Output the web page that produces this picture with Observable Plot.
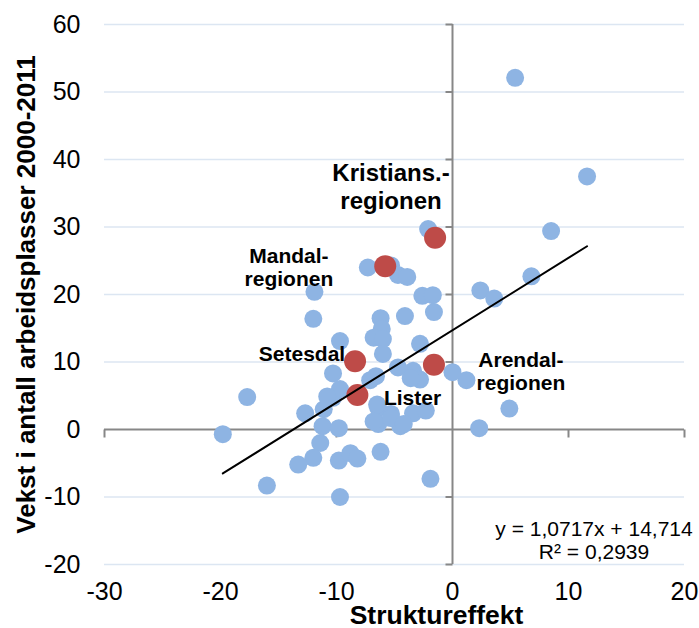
<!DOCTYPE html>
<html>
<head>
<meta charset="utf-8">
<script src="https://cdn.jsdelivr.net/npm/d3@7"></script>
<script src="https://cdn.jsdelivr.net/npm/@observablehq/plot@0.6"></script>
<style>
  html, body { margin: 0; padding: 0; background: #fff; }
</style>
</head>
<body>
<div id="chart"></div>
<script>
// Blue points (other regions): Struktureffekt (x), Vekst (y)
const blueX = [5.4, 11.6, 8.5, 6.8, 2.4, 3.6, 1.2, 4.9, 2.3, 0.0,
  -2.1, -7.3, -5.3, -4.7, -3.9, -2.6, -1.7, -1.6, -11.9, -12.0,
  -9.7, -6.2, -6.1, -6.8, -6.0, -4.1, -2.8, -6.0, -10.3, -7.1,
  -4.7, -3.4, -2.8, -10.3, -9.7, -12.7, -11.1, -6.4, -5.3, -6.4,
  -4.5, -3.4, -2.3, -11.2, -9.8, -11.4, -12.0, -13.3, -9.8, -8.8,
  -8.2, -6.2, -1.9, -9.7, -17.7, -19.8, -16.0, -6.5, -5.3, -4.2,
  -6.8, -3.6, -10.8, -6.6];
const blueY = [52.1, 37.5, 29.4, 22.7, 20.6, 19.4, 7.3, 3.1, 0.2, 8.5,
  29.7, 24.0, 24.3, 22.9, 22.6, 19.8, 19.9, 17.4, 20.4, 16.4,
  13.1, 16.5, 14.9, 13.6, 13.4, 16.8, 12.7, 11.2, 8.3, 7.3,
  9.2, 8.7, 7.4, 4.7, 6.0, 2.4, 3.0, 3.2, 2.3, 0.8,
  0.5, 2.4, 2.8, 0.5, 0.2, -2.0, -4.2, -5.2, -4.6, -3.5,
  -4.3, -3.3, -7.3, -10.0, 4.8, -0.7, -8.3, 3.7, 1.7, 0.8,
  1.2, 7.6, 4.9, 7.9];

// Red points (Agder regions)
const redNames = ["Kristians.-regionen", "Mandalregionen", "Setesdal", "Lister", "Arendalregionen"];
const redX = [-1.5, -5.8, -8.4, -8.2, -1.6];
const redY = [28.4, 24.2, 10.1, 5.1, 9.6];

// Annotation labels
const labelText = ["Kristians.-\nregionen", "Mandal-\nregionen", "Setesdal", "Lister", "Arendal-\nregionen"];
const labelX = [-5.3, -14.1, -9.25, -3.45, 5.9];
const labelY = [36.1, 24.1, 11.3, 4.7, 8.7];
const labelAnchor = ["middle", "middle", "end", "middle", "middle"];
const labelSize = [24, 21, 21, 21, 21];

// Trend line (from the chart's equation)
const slope = 1.0717;
const intercept = 14.714;
const equationText = "y = 1,0717x + 14,714\nR² = 0,2939";
const equationX = 12.2;
const equationY = -16.4;

// Axes
const xTicks = [-30, -20, -10, 0, 10, 20];
const yTicks = [-20, -10, 0, 10, 20, 30, 40, 50, 60];
const xTitle = "Struktureffekt";
const yTitle = "Vekst i antall arbeidsplasser 2000-2011";

const blue = blueX.map((x, i) => ({x, y: blueY[i]}));
const red = redX.map((x, i) => ({name: redNames[i], x, y: redY[i]}));
const labels = labelText.map((t, i) => ({t, x: labelX[i], y: labelY[i], a: labelAnchor[i], s: labelSize[i]}));
const allX = blueX.concat(redX);
const trend = d3.extent(allX).map(x => ({x, y: slope * x + intercept}));

const gray = "#878787";
const gridColor = "#DCE6F2";
const tickLeft = {draw(ctx) { ctx.moveTo(-7, 0); ctx.lineTo(0, 0); }};
const tickDown = {draw(ctx) { ctx.moveTo(0, 0); ctx.lineTo(0, 8); }};
const fmt = d => String(d);

const labelMarks = labels.map(l => Plot.text([l], {
  x: "x", y: "y", text: "t", textAnchor: l.a, fontSize: l.s,
  fontWeight: "bold", lineHeight: l.s > 22 ? 1.17 : 1.12, fill: "#000"
}));

const chart = Plot.plot({
  width: 699,
  height: 628,
  marginLeft: 104,
  marginRight: 15,
  marginTop: 24,
  marginBottom: 64,
  style: {fontFamily: "'Liberation Sans', Arial, sans-serif", background: "#fff", color: "#000"},
  x: {domain: [-30, 20]},
  y: {domain: [-20, 60]},
  marks: [
    Plot.ruleY(yTicks.filter(d => d !== 0), {stroke: gridColor, strokeWidth: 1.6}),
    Plot.ruleX([0], {stroke: gray, strokeWidth: 2}),
    Plot.ruleY([0], {stroke: gray, strokeWidth: 2}),
    Plot.dot(yTicks.filter(d => d !== 0), {x: () => 0, y: d => d, symbol: tickLeft, fill: "none", stroke: gray, strokeWidth: 2}),
    Plot.dot(xTicks.filter(d => d !== 0), {x: d => d, y: () => 0, symbol: tickDown, fill: "none", stroke: gray, strokeWidth: 2}),
    Plot.axisY(yTicks, {anchor: "left", tickSize: 0, tickPadding: 24, fontSize: 25, tickFormat: fmt, label: null}),
    Plot.axisX(xTicks, {anchor: "bottom", tickSize: 0, tickPadding: 18, fontSize: 25, tickFormat: fmt, label: null}),
    Plot.dot(blue, {x: "x", y: "y", r: 9, fill: "#8EB4E3"}),
    Plot.dot(red, {x: "x", y: "y", r: 11, fill: "#BE4B48"}),
    Plot.line(trend, {x: "x", y: "y", stroke: "#000", strokeWidth: 2}),
    ...labelMarks,
    Plot.text([equationText], {x: () => equationX, y: () => equationY, text: d => d, fontSize: 21, lineHeight: 1.1, fill: "#000"}),
    Plot.text([xTitle], {frameAnchor: "bottom", text: d => d, dx: 42, dy: 59, fontSize: 26.5, fontWeight: "bold", fill: "#000"}),
    Plot.text([yTitle], {frameAnchor: "left", textAnchor: "middle", text: d => d, rotate: -90, dx: -78, fontSize: 26, fontWeight: "bold", fill: "#000"})
  ]
});
document.getElementById("chart").appendChild(chart);
</script>
</body>
</html>
